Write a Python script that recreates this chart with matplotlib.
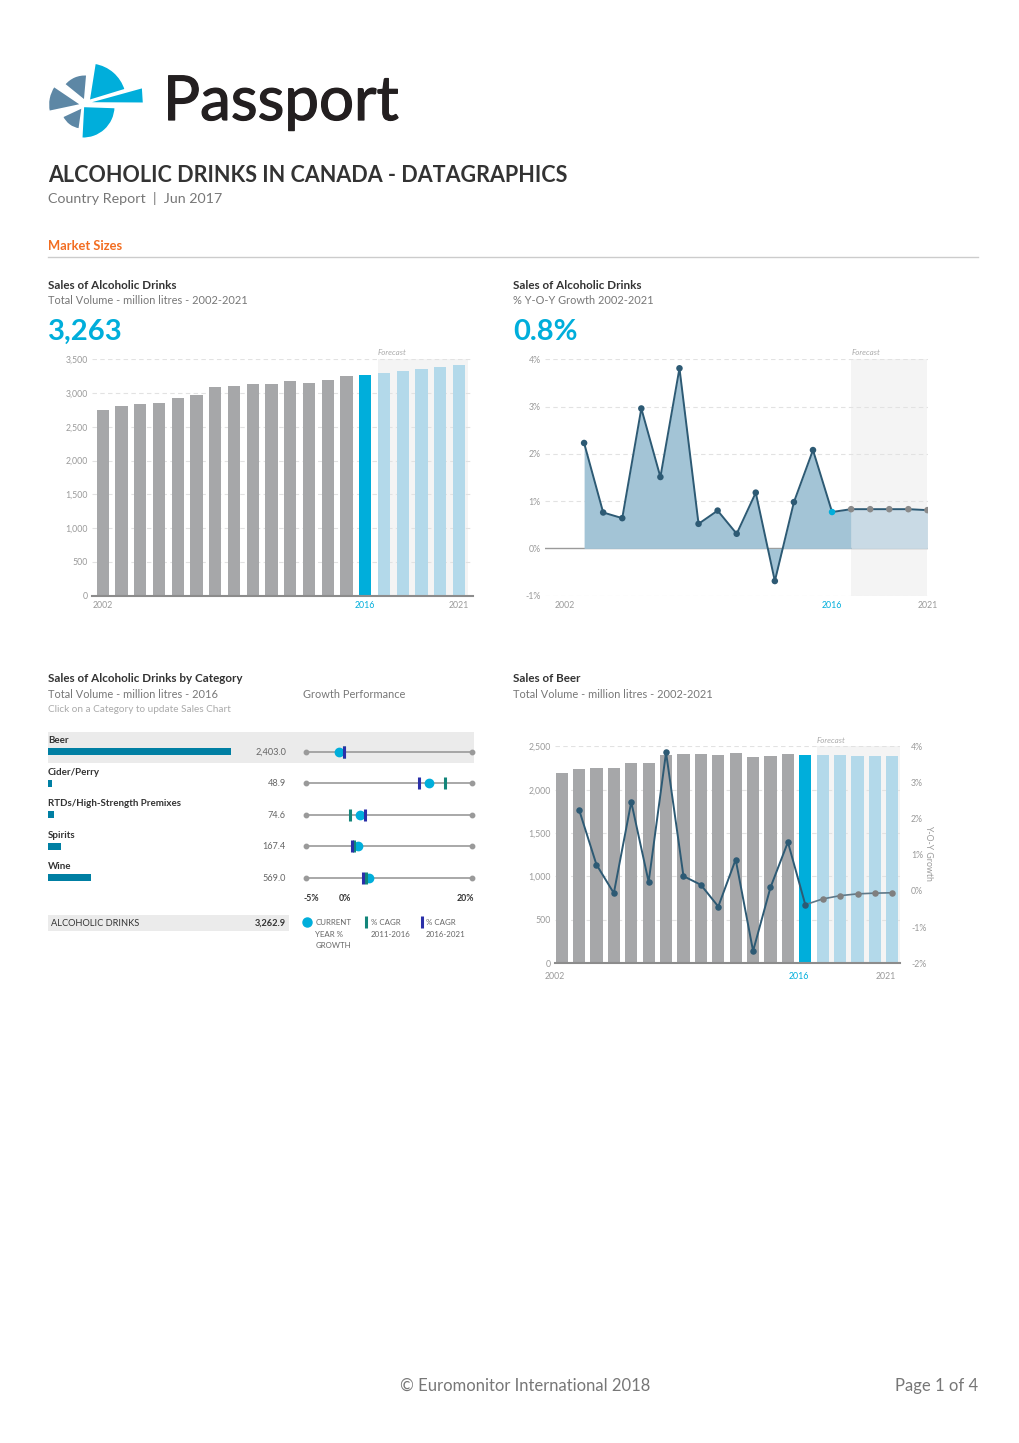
import matplotlib

matplotlib.use("Agg")
import matplotlib.pyplot as plt
from matplotlib import patheffects
from matplotlib.lines import Line2D
from matplotlib.patches import Polygon, Rectangle, Wedge

plt.rcParams["font.family"] = ["Lato", "DejaVu Sans"]

W, H = 1020, 1443

# --- data ---
years = list(range(2002, 2022))
total_volume = [2749, 2809, 2833, 2853, 2932, 2976, 3090, 3105, 3129, 3139,
                3179, 3154, 3189, 3253, 3263, 3302, 3332, 3356, 3386, 3416]
growth_years = list(range(2003, 2022))
total_growth = [2.23, 0.76, 0.64, 2.96, 1.51, 3.81, 0.52, 0.80, 0.31, 1.18,
                -0.69, 0.98, 2.08, 0.77, 0.83, 0.83, 0.83, 0.83, 0.81]
beer_volume = [2189, 2235, 2250, 2250, 2304, 2312, 2400, 2408, 2412, 2400,
               2419, 2381, 2385, 2415, 2403, 2400, 2396, 2392, 2392, 2392]
beer_growth = [2.25, 0.73, -0.06, 2.46, 0.25, 3.83, 0.41, 0.17, -0.43, 0.87,
               -1.66, 0.10, 1.35, -0.38, -0.22, -0.13, -0.08, -0.06, -0.05]

categories = ["Beer", "Cider/Perry", "RTDs/High-Strength Premixes", "Spirits", "Wine"]
category_volume = [2403.0, 48.9, 74.6, 167.4, 569.0]
current_growth = [0.0, 13.6, 3.15, 2.85, 4.5]
cagr_2011_2016 = [0.7, 15.9, 1.7, 2.2, 4.05]
cagr_2016_2021 = [0.75, 12.1, 3.9, 2.0, 3.55]
total_label = "ALCOHOLIC DRINKS"
total_value = 3262.9

CURRENT_YEAR = 2016
GREY_BAR = "#a6a7a9"
CYAN = "#00aedb"
LIGHT = "#b3d9ea"
NAVY = "#2d5a74"
TICK = "#9a9a9a"
SHADE = "#f4f4f4"
GRID = "#e2e2e2"

fig = plt.figure(figsize=(W / 100, H / 100), dpi=100)


def rect(x0, y0, x1, y1):
  return [x0 / W, 1 - y1 / H, (x1 - x0) / W, (y1 - y0) / H]


def text(x, y, s, **kw):
  kw.setdefault("va", "baseline")
  return fig.text(x / W, 1 - y / H, s, **kw)


def fig_box(x0, y0, x1, y1, color):
  fig.add_artist(Rectangle((x0 / W, 1 - y1 / H), (x1 - x0) / W, (y1 - y0) / H,
                           transform=fig.transFigure, color=color, zorder=-1, lw=0))


def fig_marker(x, y, **kw):
  fig.add_artist(Line2D([x / W], [1 - y / H], transform=fig.transFigure, ls="", **kw))


def bar_colors():
  return [GREY_BAR if y < CURRENT_YEAR else CYAN if y == CURRENT_YEAR else LIGHT
          for y in years]


def style_axis(ax, xpad=4):
  for side in ("top", "right", "left"):
    ax.spines[side].set_visible(False)
  ax.spines["bottom"].set_color("#8c8c8c")
  ax.spines["bottom"].set_linewidth(1.5)
  ax.tick_params(length=0, labelsize=6.3, labelcolor=TICK, pad=3)
  ax.tick_params(axis="x", pad=xpad)
  ax.set_facecolor("none")


def year_ticks(ax, positions):
  ax.set_xticks(positions)
  ax.set_xticklabels(["2002", "2016", "2021"])
  for lab, col in zip(ax.get_xticklabels(), (TICK, CYAN, TICK)):
    lab.set_color(col)


# --- header ---
logo = fig.add_axes(rect(44, 58, 149, 142))
logo.set_xlim(0, 105)
logo.set_ylim(0, 84)
logo.axis("off")


def lz(zx, zy):
  return (zx / 3, 84 - zy / 3)


steel = "#5d87a5"
logo.add_patch(Wedge(lz(122, 128), 26, 85, 141, color=steel, ec="white", lw=1.2))
logo.add_patch(Wedge(lz(112, 140), 33, 146, 192, color=steel, ec="white", lw=1.2))
logo.add_patch(Wedge(lz(115, 148), 22, 205, 262, color=steel, ec="white", lw=1.2))
logo.add_patch(Wedge(lz(135, 128), 38, 17, 81, color=CYAN, ec="white", lw=1.2))
logo.add_patch(Wedge(lz(118, 145), 32, -93, -2, color=CYAN, ec="white", lw=1.2))
logo.add_patch(Polygon([lz(126, 135), lz(296, 88), lz(299, 136)], color=CYAN,
                       ec="white", lw=1.2))

brand = text(163, 120, "Passport", fontsize=44.5, color="#231f20")
brand.set_path_effects([patheffects.withStroke(linewidth=0.9, foreground="#231f20")])
text(48, 182, "ALCOHOLIC DRINKS IN CANADA - DATAGRAPHICS", fontsize=15.5,
     fontweight="bold", color="#333333")
text(48, 203, "Country Report  |  Jun 2017", fontsize=10.3, color="#777777")
text(48, 250, "Market Sizes", fontsize=9.3, fontweight="bold", color="#f26d21")
fig.add_artist(Line2D([48 / W, 978 / W], [1 - 257 / H] * 2, transform=fig.transFigure,
                      color="#cccccc", lw=1))


def chart_heading(x, title, subtitle, big=None):
  text(x, 289, title, fontsize=8.4, fontweight="bold", color="#333333")
  text(x, 304, subtitle, fontsize=7.9, color="#777777")
  if big:
    text(x, 340, big, fontsize=21, fontweight="bold", color=CYAN)


# --- total volume bars ---
chart_heading(48, "Sales of Alcoholic Drinks", "Total Volume - million litres - 2002-2021",
              f"{total_volume[years.index(CURRENT_YEAR)]:,}")
ax1 = fig.add_axes(rect(92, 359.3, 473, 595.7))
ax1.set_xlim(2001.43, 2021.75)
ax1.set_ylim(0, 3500)
ax1.axvspan(CURRENT_YEAR + 0.67, 2021.47, color=SHADE, zorder=0, lw=0)
for v in range(500, 3501, 500):
  ax1.axhline(v, color=GRID, lw=0.8, ls=(0, (4, 3)), zorder=0.5)
ax1.bar(years, total_volume, width=0.65, color=bar_colors(), zorder=2)
style_axis(ax1)
ax1.set_yticks(range(0, 3501, 500))
ax1.set_yticklabels([f"{v:,}" for v in range(0, 3501, 500)])
year_ticks(ax1, [2002, 2016, 2021])
ax1.text(CURRENT_YEAR + 0.67, 1.012, "Forecast", transform=ax1.get_xaxis_transform(),
         fontsize=5.8, style="italic", color="#aaaaaa", va="bottom")

# --- total growth area ---
chart_heading(513, "Sales of Alcoholic Drinks", "% Y-O-Y Growth 2002-2021",
              f"{total_growth[growth_years.index(CURRENT_YEAR)]:.1f}%")
ax2 = fig.add_axes(rect(545, 359.3, 928, 595.7))
ax2.set_xlim(2000.95, 2021.03)
ax2.set_ylim(-1, 4)
ax2.axvspan(CURRENT_YEAR + 1, 2021, color=SHADE, zorder=0, lw=0)
for v in (-1, 1, 2, 3, 4):
  ax2.axhline(v, color=GRID, lw=0.8, ls=(0, (4, 3)), zorder=0.5)
ax2.axhline(0, color="#9a9a9a", lw=1, zorder=0.6)
split = growth_years.index(CURRENT_YEAR + 1)
ax2.fill_between(growth_years[:split + 1], total_growth[:split + 1], 0,
                 color="#a3c4d6", lw=0, zorder=1)
ax2.fill_between(growth_years[split:], total_growth[split:], 0,
                 color="#c9dae5", lw=0, zorder=1)
ax2.plot(growth_years, total_growth, color=NAVY, lw=1.4, zorder=2)
pt_colors = [NAVY if y < CURRENT_YEAR else CYAN if y == CURRENT_YEAR else "#8a8a8a"
             for y in growth_years]
ax2.scatter(growth_years, total_growth, s=22, color=pt_colors, zorder=3, lw=0)
style_axis(ax2)
ax2.spines["bottom"].set_visible(False)
ax2.set_yticks(range(-1, 5))
ax2.set_yticklabels([f"{v}%" for v in range(-1, 5)])
year_ticks(ax2, [2002, 2016, 2021])
ax2.text(CURRENT_YEAR + 1, 1.012, "Forecast", transform=ax2.get_xaxis_transform(),
         fontsize=5.8, style="italic", color="#aaaaaa", va="bottom")

# --- category panel ---
text(48, 682, "Sales of Alcoholic Drinks by Category", fontsize=8.4, fontweight="bold",
     color="#333333")
text(48, 698, "Total Volume - million litres - 2016", fontsize=7.9, color="#777777")
text(303, 698, "Growth Performance", fontsize=7.9, color="#777777")
text(48, 712, "Click on a Category to update Sales Chart", fontsize=7.2, color="#aaaaaa")

ROW0, ROW_STEP = 751.7, 31.5
y_top = (725 - ROW0) / ROW_STEP
y_bot = (890 - ROW0) / ROW_STEP
rows = list(range(len(categories)))

fig_box(48, 731.7, 474, 763.3, "#ebebeb")
axc = fig.add_axes(rect(48, 725, 231.3, 890))
axc.set_xlim(0, max(category_volume))
axc.set_ylim(y_bot, y_top)
axc.axis("off")
axc.barh(rows, category_volume, height=7 / ROW_STEP, color="#007fa3")

axg = fig.add_axes(rect(306, 725, 471.7, 890))
axg.set_xlim(-5, 20)
axg.set_ylim(y_bot, y_top)
axg.axis("off")
for i in rows:
  axg.plot([-5, 20], [i, i], color="#9a9a9a", lw=1.2, zorder=1, clip_on=False)
  axg.plot([-5, 20], [i, i], ls="", marker="o", ms=3.2, color="#9a9a9a", clip_on=False)
axg.plot(current_growth, rows, ls="", marker="o", ms=6, color=CYAN, zorder=3)
axg.plot(cagr_2011_2016, rows, ls="", marker="|", ms=8, mew=2.2, color="#13857a", zorder=4)
axg.plot(cagr_2016_2021, rows, ls="", marker="|", ms=8, mew=2.2, color="#2a2fa8", zorder=5)

for i, (name, vol) in enumerate(zip(categories, category_volume)):
  y = ROW0 + ROW_STEP * i
  text(48, y - 8.5, name, fontsize=7, fontweight="bold", color="#333333")
  text(286, y + 3, f"{vol:,.1f}", fontsize=6.6, color="#666666", ha="right")

text(304, 901, "-5%", fontsize=6.3, fontweight="bold", color="#333333")
text(338.5, 901, "0%", fontsize=6.3, fontweight="bold", color="#333333")
text(474, 901, "20%", fontsize=6.3, fontweight="bold", color="#333333", ha="right")

fig_box(48, 915, 288.7, 930.7, "#ebebeb")
text(51, 926, total_label, fontsize=6.7, color="#333333")
text(286, 926, f"{total_value:,.1f}", fontsize=6.7, fontweight="bold", color="#333333",
     ha="right")

fig_marker(307.3, 922.3, marker="o", ms=6.5, color=CYAN)
fig_marker(366.3, 922.3, marker="|", ms=8, mew=2.2, color="#13857a")
fig_marker(421.7, 922.3, marker="|", ms=8, mew=2.2, color="#2a2fa8")
for dy, s in zip((0, 11.7, 23.4), ("CURRENT", "YEAR %", "GROWTH")):
  text(315.3, 925 + dy, s, fontsize=5.7, color="#666666")
for dy, s in zip((0, 11.7), ("% CAGR", "2011-2016")):
  text(370.7, 925 + dy, s, fontsize=5.7, color="#666666")
for dy, s in zip((0, 11.7), ("% CAGR", "2016-2021")):
  text(426, 925 + dy, s, fontsize=5.7, color="#666666")

# --- beer ---
text(513, 682, "Sales of Beer", fontsize=8.4, fontweight="bold", color="#333333")
text(513, 698, "Total Volume - million litres - 2002-2021", fontsize=7.9, color="#777777")

ax4 = fig.add_axes(rect(555, 746.3, 900, 963.3))
ax4.set_xlim(2001.65, 2021.44)
ax4.set_ylim(0, 2500)
ax4.axvspan(CURRENT_YEAR + 0.65, 2021.44, color=SHADE, zorder=0, lw=0)
for v in range(500, 2501, 500):
  ax4.axhline(v, color=GRID, lw=0.8, ls=(0, (4, 3)), zorder=0.5)
ax4.bar(years, beer_volume, width=0.7, color=bar_colors(), zorder=2)
style_axis(ax4, xpad=6)
ax4.set_yticks(range(0, 2501, 500))
ax4.set_yticklabels([f"{v:,}" for v in range(0, 2501, 500)])
year_ticks(ax4, [2002 - 0.38, 2016 - 0.4, 2021 - 0.4])
ax4.text(CURRENT_YEAR + 0.65, 1.012, "Forecast", transform=ax4.get_xaxis_transform(),
         fontsize=5.8, style="italic", color="#aaaaaa", va="bottom")

ax4r = ax4.twinx()
ax4r.set_ylim(-2, 4)
ax4r.set_facecolor("none")
for side in ax4r.spines:
  ax4r.spines[side].set_visible(False)
ax4r.tick_params(length=0, labelsize=6.3, labelcolor=TICK, pad=8)
ax4r.set_yticks(range(-2, 5))
ax4r.set_yticklabels([f"{v}%" for v in range(-2, 5)])
hist = growth_years.index(CURRENT_YEAR) + 1
ax4r.plot(growth_years[:hist], beer_growth[:hist], color=NAVY, lw=1.4, zorder=3)
ax4r.plot(growth_years[hist - 1:], beer_growth[hist - 1:], color="#5f7888", lw=1.2, zorder=3)
ax4r.scatter(growth_years[:hist], beer_growth[:hist], s=22, color=NAVY, zorder=4, lw=0)
ax4r.scatter(growth_years[hist:], beer_growth[hist:], s=22, color="#7f7f7f", zorder=4, lw=0)
fig.text(929 / W, 1 - 853 / H, "Y-O-Y Growth", rotation=270, fontsize=6.3, color=TICK,
         ha="center", va="center")

# --- footer ---
text(525, 1391, "\u00a9 Euromonitor International 2018", fontsize=12, color="#777777",
     ha="center")
text(978, 1391, "Page 1 of 4", fontsize=12, color="#777777", ha="right")

fig.savefig("out.png", dpi=100)
